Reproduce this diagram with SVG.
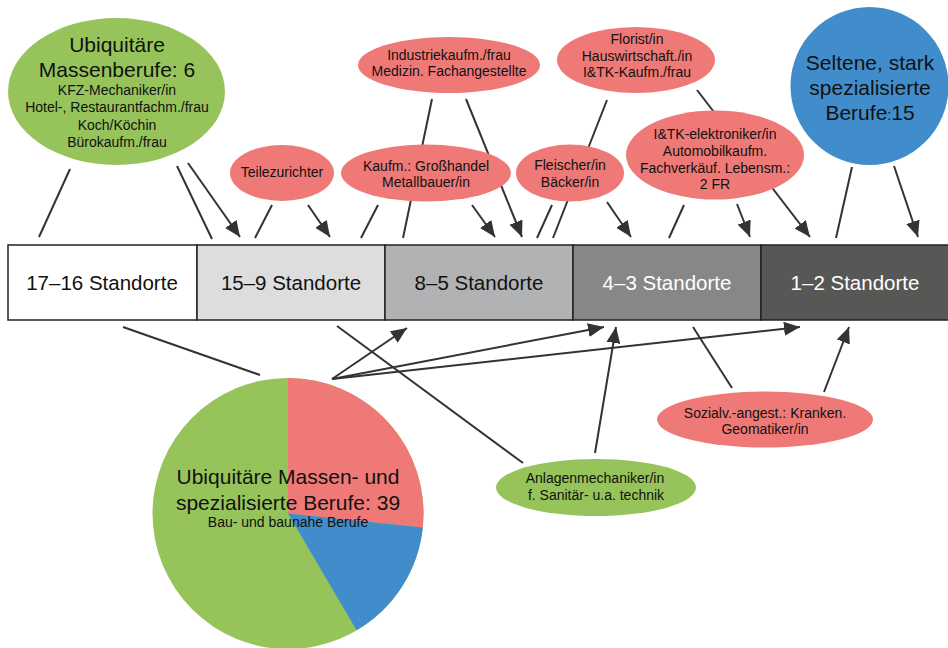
<svg xmlns="http://www.w3.org/2000/svg" width="948" height="648" viewBox="0 0 948 648">
<style>
text{font-family:"Liberation Sans",Arial,sans-serif;fill:#111;text-anchor:middle}
.big{font-size:21px}
.sm{font-size:14px}
.bar{font-size:20.5px}
.w{fill:#fff}
.red{fill:#ef7977}
.grn{fill:#96c45a}
.blu{fill:#418dcb}
.c line{stroke:#333;stroke-width:2}
.a{marker-end:url(#ah)}
.seg{stroke:#222;stroke-width:1.5}
</style>
<defs>
<marker id="ah" markerUnits="userSpaceOnUse" markerWidth="17" markerHeight="14" refX="16" refY="7" orient="auto">
<path d="M0,0 L16,7 L0,14 z" fill="#333"/>
</marker>
</defs>
<rect width="948" height="648" fill="#fff"/>
<g id="connectors" class="c">
<line x1="70" y1="169" x2="39" y2="237"/>
<line x1="177" y1="166" x2="212" y2="239"/>
<line class="a" x1="188" y1="163" x2="240" y2="237"/>
<line x1="272" y1="205" x2="255" y2="238"/>
<line class="a" x1="308" y1="205" x2="330" y2="237"/>
<line x1="378" y1="205" x2="361" y2="238"/>
<line x1="432" y1="99" x2="403" y2="238"/>
<line class="a" x1="472" y1="205" x2="495" y2="237"/>
<line class="a" x1="466" y1="99" x2="522" y2="237"/>
<line x1="552" y1="205" x2="537" y2="238"/>
<line x1="607" y1="100" x2="553" y2="238"/>
<line class="a" x1="607" y1="202" x2="631" y2="237"/>
<line x1="684" y1="205" x2="669" y2="238"/>
<line class="a" x1="737" y1="204" x2="750" y2="237"/>
<line class="a" x1="697" y1="90" x2="810" y2="237"/>
<line x1="852" y1="167" x2="836" y2="238"/>
<line class="a" x1="894" y1="166" x2="918" y2="237"/>
<line x1="123" y1="327" x2="260" y2="375"/>
<line x1="337" y1="326" x2="523" y2="463"/>
<line class="a" x1="332" y1="379" x2="407" y2="328"/>
<line class="a" x1="332" y1="379" x2="604" y2="327"/>
<line class="a" x1="332" y1="379" x2="800" y2="327"/>
<line class="a" x1="595" y1="453" x2="616" y2="327"/>
<line x1="732" y1="388" x2="693" y2="327"/>
<line class="a" x1="824" y1="392" x2="849" y2="327"/>
</g>
<g id="bar">
<rect class="seg" x="8" y="245" width="189" height="75" fill="#ffffff"/>
<rect class="seg" x="197" y="245" width="188" height="75" fill="#dcdddc"/>
<rect class="seg" x="385" y="245" width="188" height="75" fill="#b1b2b4"/>
<rect class="seg" x="573" y="245" width="188" height="75" fill="#878787"/>
<rect class="seg" x="761" y="245" width="190" height="75" fill="#575756"/>
<text class="bar" x="102" y="290">17–16 Standorte</text>
<text class="bar" x="291" y="290">15–9 Standorte</text>
<text class="bar" x="479" y="290">8–5 Standorte</text>
<text class="bar w" x="667" y="290">4–3 Standorte</text>
<text class="bar w" x="855" y="290">1–2 Standorte</text>
</g>
<g id="massenberufe">
<ellipse class="grn" cx="116.5" cy="91.5" rx="108.5" ry="73.5"/>
<text class="big" x="117" y="52">Ubiquitäre</text>
<text class="big" x="117" y="77">Massenberufe: 6</text>
<text class="sm" x="117" y="95">KFZ-Mechaniker/in</text>
<text class="sm" x="117" y="112">Hotel-, Restaurantfachm./frau</text>
<text class="sm" x="117" y="130">Koch/Köchin</text>
<text class="sm" x="117" y="147">Bürokaufm./frau</text>
</g>
<g id="teilezurichter">
<ellipse class="red" cx="282" cy="173" rx="52" ry="28"/>
<text class="sm" x="282" y="177">Teilezurichter</text>
</g>
<g id="industriekaufm">
<ellipse class="red" cx="449" cy="65" rx="91" ry="28"/>
<text class="sm" x="449" y="60">Industriekaufm./frau</text>
<text class="sm" x="449" y="76">Medizin. Fachangestellte</text>
</g>
<g id="kaufm">
<ellipse class="red" cx="426" cy="173" rx="85" ry="28.5"/>
<text class="sm" x="426" y="171">Kaufm.: Großhandel</text>
<text class="sm" x="426" y="187">Metallbauer/in</text>
</g>
<g id="florist">
<ellipse class="red" cx="636" cy="60" rx="79" ry="33"/>
<text class="sm" x="637" y="44">Florist/in</text>
<text class="sm" x="637" y="61">Hauswirtschaft./in</text>
<text class="sm" x="637" y="77">I&amp;TK-Kaufm./frau</text>
</g>
<g id="fleischer">
<ellipse class="red" cx="570" cy="173" rx="54" ry="28.5"/>
<text class="sm" x="570" y="170">Fleischer/in</text>
<text class="sm" x="570" y="187">Bäcker/in</text>
</g>
<g id="itk-elektroniker">
<ellipse class="red" cx="715" cy="155" rx="89" ry="44.5"/>
<text class="sm" x="715" y="139">I&amp;TK-elektroniker/in</text>
<text class="sm" x="715" y="156">Automobilkaufm.</text>
<text class="sm" x="715" y="173">Fachverkäuf. Lebensm.:</text>
<text class="sm" x="715" y="189">2 FR</text>
</g>
<g id="seltene">
<circle class="blu" cx="869.5" cy="86" r="79"/>
<text class="big" x="870" y="70">Seltene, stark</text>
<text class="big" x="870" y="95">spezialisierte</text>
<text class="big" x="870" y="120">Berufe<tspan font-size="14">:</tspan>15</text>
</g>
<g id="pie">
<circle class="grn" cx="288" cy="513.5" r="135.5"/>
<path class="red" d="M288,513.5 L288,378 A135.5,135.5 0 0 1 422.8,527.4 Z"/>
<path class="blu" d="M288,513.5 L422.8,527.4 A135.5,135.5 0 0 1 356.6,630.3 Z"/>
<text class="big" x="288" y="484">Ubiquitäre Massen- und</text>
<text class="big" x="288" y="510">spezialisierte Berufe: 39</text>
<text class="sm" x="288" y="527">Bau- und baunahe Berufe</text>
</g>
<g id="anlagenmechaniker">
<ellipse class="grn" cx="596" cy="487.5" rx="100" ry="28.5"/>
<text class="sm" x="595" y="483">Anlagenmechaniker/in</text>
<text class="sm" x="596" y="500">f. Sanitär- u.a. technik</text>
</g>
<g id="sozialv">
<ellipse class="red" cx="765" cy="419.5" rx="108" ry="28"/>
<text class="sm" x="765" y="418">Sozialv.-angest.: Kranken.</text>
<text class="sm" x="765" y="434">Geomatiker/in</text>
</g>
</svg>
